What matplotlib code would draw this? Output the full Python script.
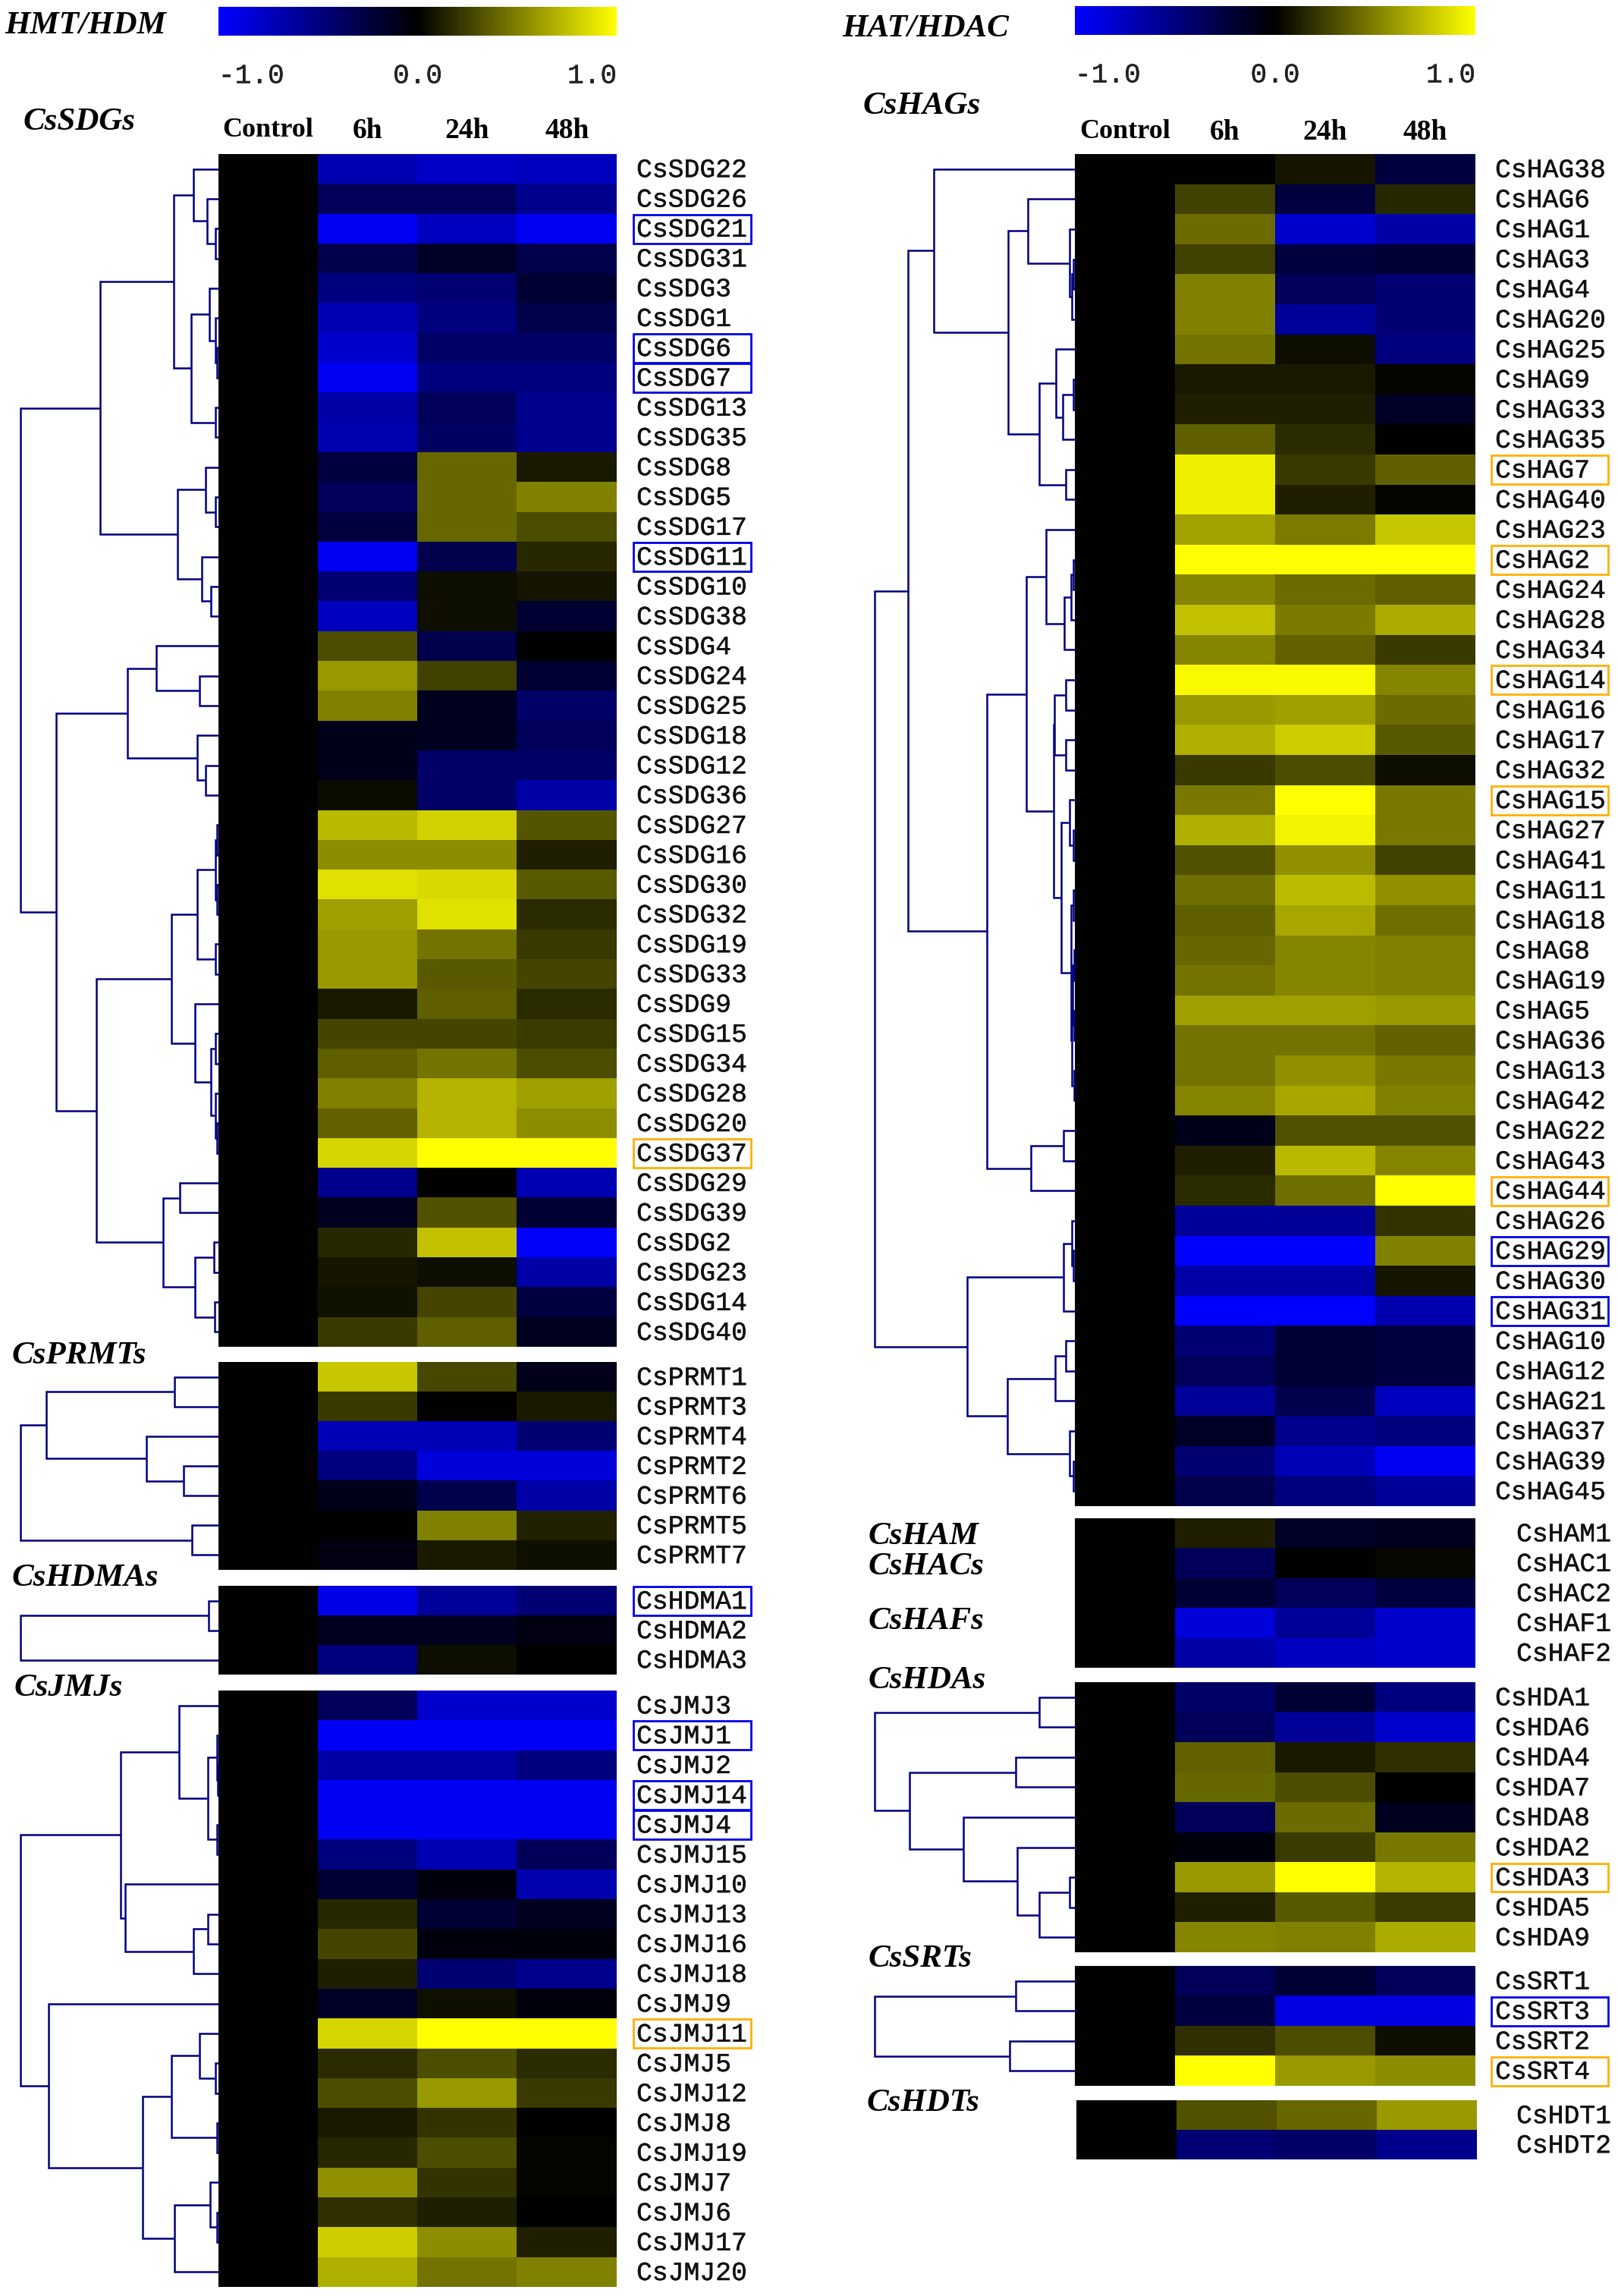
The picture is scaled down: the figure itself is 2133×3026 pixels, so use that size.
import numpy as np
import matplotlib
matplotlib.use('Agg')
import matplotlib.pyplot as plt
from matplotlib.colors import LinearSegmentedColormap
from matplotlib.patches import Rectangle
from matplotlib import transforms
import matplotlib.patheffects as pe

# ---------------- data ----------------
timepoints = ["Control", "6h", "24h", "48h"]
control_value = 0.0

sdg_genes = ["CsSDG22", "CsSDG26", "CsSDG21", "CsSDG31", "CsSDG3", "CsSDG1", "CsSDG6", "CsSDG7",
             "CsSDG13", "CsSDG35", "CsSDG8", "CsSDG5", "CsSDG17", "CsSDG11", "CsSDG10", "CsSDG38",
             "CsSDG4", "CsSDG24", "CsSDG25", "CsSDG18", "CsSDG12", "CsSDG36", "CsSDG27", "CsSDG16",
             "CsSDG30", "CsSDG32", "CsSDG19", "CsSDG33", "CsSDG9", "CsSDG15", "CsSDG34", "CsSDG28",
             "CsSDG20", "CsSDG37", "CsSDG29", "CsSDG39", "CsSDG2", "CsSDG23", "CsSDG14", "CsSDG40"]
sdg_values = [(-0.70, -0.78, -0.75), (-0.35, -0.35, -0.55), (-0.95, -0.75, -0.95), (-0.30, -0.15, -0.30),
              (-0.50, -0.45, -0.20), (-0.70, -0.50, -0.30), (-0.80, -0.40, -0.40), (-0.95, -0.50, -0.50),
              (-0.65, -0.35, -0.55), (-0.68, -0.38, -0.55), (-0.25, 0.40, 0.10), (-0.35, 0.40, 0.50),
              (-0.25, 0.40, 0.30), (-0.95, -0.30, 0.15), (-0.45, 0.05, 0.08), (-0.75, 0.06, -0.20),
              (0.30, -0.30, 0.00), (0.60, 0.25, -0.20), (0.50, -0.12, -0.40), (-0.10, -0.12, -0.35),
              (-0.10, -0.40, -0.40), (0.04, -0.40, -0.65), (0.72, 0.82, 0.33), (0.55, 0.55, 0.12),
              (0.88, 0.85, 0.35), (0.62, 0.88, 0.17), (0.60, 0.45, 0.22), (0.60, 0.35, 0.27),
              (0.10, 0.37, 0.17), (0.27, 0.27, 0.23), (0.37, 0.45, 0.30), (0.50, 0.70, 0.62),
              (0.38, 0.70, 0.55), (0.83, 1.00, 1.00), (-0.55, 0.00, -0.70), (-0.12, 0.32, -0.20),
              (0.15, 0.75, -0.98), (0.08, 0.05, -0.65), (0.07, 0.27, -0.25), (0.22, 0.37, -0.12)]

prmt_genes = ["CsPRMT1", "CsPRMT3", "CsPRMT4", "CsPRMT2", "CsPRMT6", "CsPRMT5", "CsPRMT7"]
prmt_values = [(0.78, 0.28, -0.10), (0.22, 0.00, 0.10), (-0.72, -0.72, -0.45), (-0.50, -0.85, -0.85),
               (-0.10, -0.30, -0.65), (0.00, 0.50, 0.13), (-0.07, 0.10, 0.06)]

hdma_genes = ["CsHDMA1", "CsHDMA2", "CsHDMA3"]
hdma_values = [(-0.90, -0.60, -0.45), (-0.12, -0.12, -0.07), (-0.50, 0.05, 0.00)]

jmj_genes = ["CsJMJ3", "CsJMJ1", "CsJMJ2", "CsJMJ14", "CsJMJ4", "CsJMJ15", "CsJMJ10", "CsJMJ13",
             "CsJMJ16", "CsJMJ18", "CsJMJ9", "CsJMJ11", "CsJMJ5", "CsJMJ12", "CsJMJ8", "CsJMJ19",
             "CsJMJ7", "CsJMJ6", "CsJMJ17", "CsJMJ20"]
jmj_values = [(-0.35, -0.80, -0.80), (-0.97, -0.97, -0.97), (-0.65, -0.65, -0.50), (-0.95, -0.95, -0.95),
              (-0.95, -0.95, -0.95), (-0.50, -0.70, -0.35), (-0.20, -0.05, -0.68), (0.15, -0.20, -0.12),
              (0.27, -0.05, -0.05), (0.12, -0.45, -0.55), (-0.15, 0.06, -0.05), (0.83, 1.00, 1.00),
              (0.17, 0.30, 0.17), (0.30, 0.60, 0.22), (0.10, 0.20, 0.00), (0.15, 0.30, 0.02),
              (0.57, 0.20, 0.02), (0.18, 0.12, 0.00), (0.80, 0.55, 0.12), (0.68, 0.45, 0.50)]

hag_genes = ["CsHAG38", "CsHAG6", "CsHAG1", "CsHAG3", "CsHAG4", "CsHAG20", "CsHAG25", "CsHAG9",
             "CsHAG33", "CsHAG35", "CsHAG7", "CsHAG40", "CsHAG23", "CsHAG2", "CsHAG24", "CsHAG28",
             "CsHAG34", "CsHAG14", "CsHAG16", "CsHAG17", "CsHAG32", "CsHAG15", "CsHAG27", "CsHAG41",
             "CsHAG11", "CsHAG18", "CsHAG8", "CsHAG19", "CsHAG5", "CsHAG36", "CsHAG13", "CsHAG42",
             "CsHAG22", "CsHAG43", "CsHAG44", "CsHAG26", "CsHAG29", "CsHAG30", "CsHAG31", "CsHAG10",
             "CsHAG12", "CsHAG21", "CsHAG37", "CsHAG39", "CsHAG45"]
hag_values = [(0.00, 0.08, -0.25), (0.25, -0.25, 0.15), (0.42, -0.80, -0.65), (0.25, -0.25, -0.20),
              (0.50, -0.35, -0.45), (0.50, -0.60, -0.45), (0.45, 0.05, -0.50), (0.10, 0.10, 0.02),
              (0.12, 0.12, -0.15), (0.37, 0.17, 0.00), (0.93, 0.22, 0.37), (0.93, 0.12, 0.02),
              (0.63, 0.48, 0.78), (1.00, 1.00, 1.00), (0.52, 0.42, 0.37), (0.75, 0.48, 0.67),
              (0.52, 0.38, 0.22), (0.97, 0.97, 0.52), (0.60, 0.62, 0.42), (0.68, 0.80, 0.35),
              (0.22, 0.30, 0.05), (0.47, 1.00, 0.47), (0.68, 0.95, 0.47), (0.32, 0.57, 0.25),
              (0.43, 0.73, 0.57), (0.37, 0.65, 0.43), (0.40, 0.52, 0.50), (0.45, 0.52, 0.50),
              (0.62, 0.62, 0.60), (0.45, 0.45, 0.38), (0.45, 0.57, 0.47), (0.52, 0.65, 0.50),
              (-0.10, 0.32, 0.32), (0.12, 0.72, 0.52), (0.17, 0.43, 1.00), (-0.60, -0.60, 0.20),
              (-1.00, -1.00, 0.50), (-0.65, -0.65, 0.08), (-1.00, -1.00, -0.68), (-0.45, -0.20, -0.25),
              (-0.35, -0.20, -0.25), (-0.60, -0.30, -0.75), (-0.15, -0.55, -0.50), (-0.45, -0.72, -0.95),
              (-0.30, -0.50, -0.60)]

ham_genes = ["CsHAM1", "CsHAC1", "CsHAC2", "CsHAF1", "CsHAF2"]
ham_values = [(0.12, -0.15, -0.12), (-0.35, 0.00, 0.03), (-0.20, -0.35, -0.25),
              (-0.85, -0.60, -0.80), (-0.65, -0.75, -0.80)]

hda_genes = ["CsHDA1", "CsHDA6", "CsHDA4", "CsHDA7", "CsHDA8", "CsHDA2", "CsHDA3", "CsHDA5", "CsHDA9"]
hda_values = [(-0.40, -0.20, -0.50), (-0.35, -0.60, -0.80), (0.38, 0.10, 0.18), (0.40, 0.30, 0.00),
              (-0.35, 0.42, -0.12), (-0.05, 0.23, 0.47), (0.60, 1.00, 0.70), (0.12, 0.35, 0.23),
              (0.52, 0.50, 0.67)]

srt_genes = ["CsSRT1", "CsSRT3", "CsSRT2", "CsSRT4"]
srt_values = [(-0.35, -0.20, -0.35), (-0.25, -0.88, -0.88), (0.18, 0.30, 0.06), (1.00, 0.60, 0.55)]

hdt_genes = ["CsHDT1", "CsHDT2"]
hdt_values = [(0.32, 0.40, 0.60), (-0.45, -0.40, -0.55)]

# dendrograms: [left, right, merge height]; leaves are row indices
sdg_tree = [[[[0, [1, [2, 3, 0.015], 0.057], 0.126],
              [[4, [5, [6, 7, 0.008], 0.015], 0.046], [8, 9, 0.015], 0.138], 0.226],
             [[10, [11, 12, 0.015], 0.065], [13, [14, 15, 0.038], 0.084], 0.207], 0.598],
            [[[16, [17, 18, 0.096], 0.314], [19, [20, 21, 0.065], 0.107], 0.46],
             [[[[[22, 23, 0.008], [24, 25, 0.008], 0.015], [26, 27, 0.015], 0.107],
               [28, [[29, 30, 0.015], [31, [32, 33, 0.008], 0.015], 0.038], 0.119], 0.238],
              [[34, 35, 0.195], [[36, 37, 0.023], [38, 39, 0.019], 0.119], 0.28], 0.617], 0.82], 1.0]
prmt_tree = [[[0, 1, 0.222], [2, [3, 4, 0.176], 0.364], 0.87], [5, 6, 0.134], 1.0]
hdma_tree = [[0, 1, 0.048], 2, 1.0]
jmj_tree = [[[0, [[1, [2, 3, 0.004], 0.008], [4, 5, 0.008], 0.054], 0.199],
             [6, [[7, 8, 0.054], 9, 0.126], 0.473], 0.494],
            [10, [[[11, [12, 13, 0.015], 0.096], [14, 15, 0.008], 0.238],
                  [[16, [17, 18, 0.008], 0.042], 19, 0.222], 0.383], 0.858], 1.0]
hag_tree = [[[0, [[1, [2, [[3, 4, 0.008], 5, 0.015], 0.025], 0.234],
                  [[6, [[7, 8, 0.008], 9, 0.06], 0.095], [10, 11, 0.045], 0.177], 0.334], 0.706],
             [[[12, [[[13, 14, 0.008], 15, 0.02], 16, 0.052], 0.145],
               [[[17, 18, 0.045], [19, 20, 0.045], 0.102],
                [[21, [22, 23, 0.008], 0.027],
                 [[24, 25, 0.008], [[[26, 27, 0.005], [28, 29, 0.005], 0.01], [30, 31, 0.005], 0.015], 0.02],
                 0.07], 0.107], 0.244],
              [[32, 33, 0.057], 34, 0.219], 0.439], 0.835],
            [[[35, [36, 37, 0.008], 0.015], 38, 0.057],
             [[[39, 40, 0.047], 41, 0.1], [42, [43, 44, 0.0075], 0.027], 0.339], 0.539], 1.0]
hda_tree = [[0, 1, 0.177], [[2, 3, 0.297], [4, [5, [[6, 7, 0.027], 8, 0.177], 0.287], 0.556], 0.825], 1.0]
srt_tree = [[0, 1, 0.297], [2, 3, 0.327], 1.0]

up_boxed = ["CsSDG37", "CsJMJ11", "CsHAG7", "CsHAG2", "CsHAG14", "CsHAG15", "CsHAG44", "CsHDA3", "CsSRT4"]
down_boxed = ["CsSDG21", "CsSDG6", "CsSDG7", "CsSDG11", "CsHDMA1", "CsJMJ1", "CsJMJ14", "CsJMJ4",
              "CsHAG29", "CsHAG31", "CsSRT3"]

# ---------------- drawing ----------------
W, H = 2133, 3026
fig = plt.figure(figsize=(W / 100, H / 100), dpi=100)
fig.patch.set_facecolor('white')

cmap = LinearSegmentedColormap.from_list('blue_black_yellow', [(0, 0, 1), (0, 0, 0), (1, 1, 0)])
LINE = '#00007f'
MONO = 'Liberation Mono'
SERIF = 'Liberation Serif'
THICK = [pe.withStroke(linewidth=0.3, foreground='#111111')]


def add_ax(x0, y0, x1, y1):
    ax = fig.add_axes([x0 / W, 1 - y1 / H, (x1 - x0) / W, (y1 - y0) / H])
    ax.set_axis_off()
    return ax


def draw_tree(ax, node):
    if isinstance(node, int):
        return float(node), 0.0
    a, b, h = node
    ya, ha = draw_tree(ax, a)
    yb, hb = draw_tree(ax, b)
    ax.plot([ha, h, h, hb], [ya, ya, yb, yb], color=LINE, lw=1.8, clip_on=False,
            solid_joinstyle='miter', solid_capstyle='butt')
    return (ya + yb) / 2, h


def block(genes, values, x0, y0, x1, y1, label_x, box_x0, box_x1, tree=None, root_x=None):
    n = len(genes)
    mat = np.array([[control_value] + list(v) for v in values])
    ax = add_ax(x0, y0, x1, y1)
    ax.imshow(mat, cmap=cmap, vmin=-1, vmax=1, aspect='auto', interpolation='nearest')
    ax.set_xlim(-0.5, 3.5)
    ax.set_ylim(n - 0.5, -0.5)
    tr = transforms.blended_transform_factory(ax.transAxes, ax.transData)
    w = x1 - x0
    for i, g in enumerate(genes):
        ax.text((label_x - x0) / w, i + 0.03, g, transform=tr, ha='left', va='center',
                fontsize=25, family=MONO, color='#111111', clip_on=False, path_effects=THICK)
        if g in up_boxed or g in down_boxed:
            col = '#ffb000' if g in up_boxed else '#0000e6'
            ax.add_patch(Rectangle(((box_x0 - x0) / w, i - 0.47), (box_x1 - box_x0) / w, 0.96,
                                   transform=tr, fill=False, edgecolor=col, lw=2.0, clip_on=False))
    if tree is not None:
        dax = add_ax(root_x, y0, x0, y1)
        dax.set_xlim(1.0, 0.0)
        dax.set_ylim(n - 0.5, -0.5)
        draw_tree(dax, tree)
    return ax


def colorbar(x0, y0, x1, y1, ty):
    cax = add_ax(x0, y0, x1, y1)
    cax.imshow(np.linspace(-1, 1, 512).reshape(1, -1), cmap=cmap, vmin=-1, vmax=1,
               aspect='auto', extent=(-1, 1, 0, 1))
    for v, ha in [(-1.0, 'left'), (0.0, 'center'), (1.0, 'right')]:
        fig.text((x0 + (v + 1) / 2 * (x1 - x0)) / W, 1 - ty / H, f"{v:.1f}", ha=ha, va='center',
                 fontsize=26, family=MONO, color='#222222', path_effects=THICK)


def headers(x0, x1, y):
    cw = (x1 - x0) / 4
    for j, t in enumerate(timepoints):
        fig.text((x0 + (j + 0.5) * cw) / W, 1 - y / H, t, ha='center', va='center',
                 fontsize=27 if j else 26, family=SERIF, weight='bold')


def title(x, y, s, size=31):
    fig.text(x / W, 1 - y / H, s, ha='left', va='center', fontsize=size, family=SERIF,
             weight='bold', style='italic')


# left panel
LX0, LX1 = 288, 813
colorbar(LX0, 9, LX1, 47, 100)
headers(LX0, LX1, 172)
title(6, 34, "HMT/HDM")
title(31, 161, "CsSDGs")
block(sdg_genes, sdg_values, LX0, 203, LX1, 1775, 839, 835, 990, sdg_tree, 27)
title(16, 1787, "CsPRMTs")
block(prmt_genes, prmt_values, LX0, 1795, LX1, 2069, 839, 835, 990, prmt_tree, 27)
title(16, 2080, "CsHDMAs")
block(hdma_genes, hdma_values, LX0, 2090, LX1, 2207, 839, 835, 990, hdma_tree, 27)
title(19, 2225, "CsJMJs")
block(jmj_genes, jmj_values, LX0, 2228, LX1, 3014, 839, 835, 990, jmj_tree, 27)

# right panel
RX0, RX1 = 1417, 1945
colorbar(RX0, 8, RX1, 46, 99)
headers(RX0, RX1, 174)
title(1110, 38, "HAT/HDAC")
title(1138, 140, "CsHAGs")
block(hag_genes, hag_values, RX0, 203, RX1, 1985, 1971, 1966, 2120, hag_tree, 1153)
title(1145, 2025, "CsHAM")
title(1145, 2065, "CsHACs")
title(1145, 2137, "CsHAFs")
block(ham_genes, ham_values, RX0, 2001, RX1, 2198, 1999, 1966, 2120)
title(1145, 2215, "CsHDAs")
block(hda_genes, hda_values, RX0, 2217, RX1, 2573, 1971, 1966, 2120, hda_tree, 1153)
title(1145, 2582, "CsSRTs")
block(srt_genes, srt_values, RX0, 2591, RX1, 2749, 1971, 1966, 2120, srt_tree, 1153)
title(1143, 2772, "CsHDTs")
block(hdt_genes, hdt_values, RX0 + 2, 2768, RX1 + 2, 2846, 1999, 1966, 2120)

fig.savefig('out.png', dpi=100, facecolor='white')
